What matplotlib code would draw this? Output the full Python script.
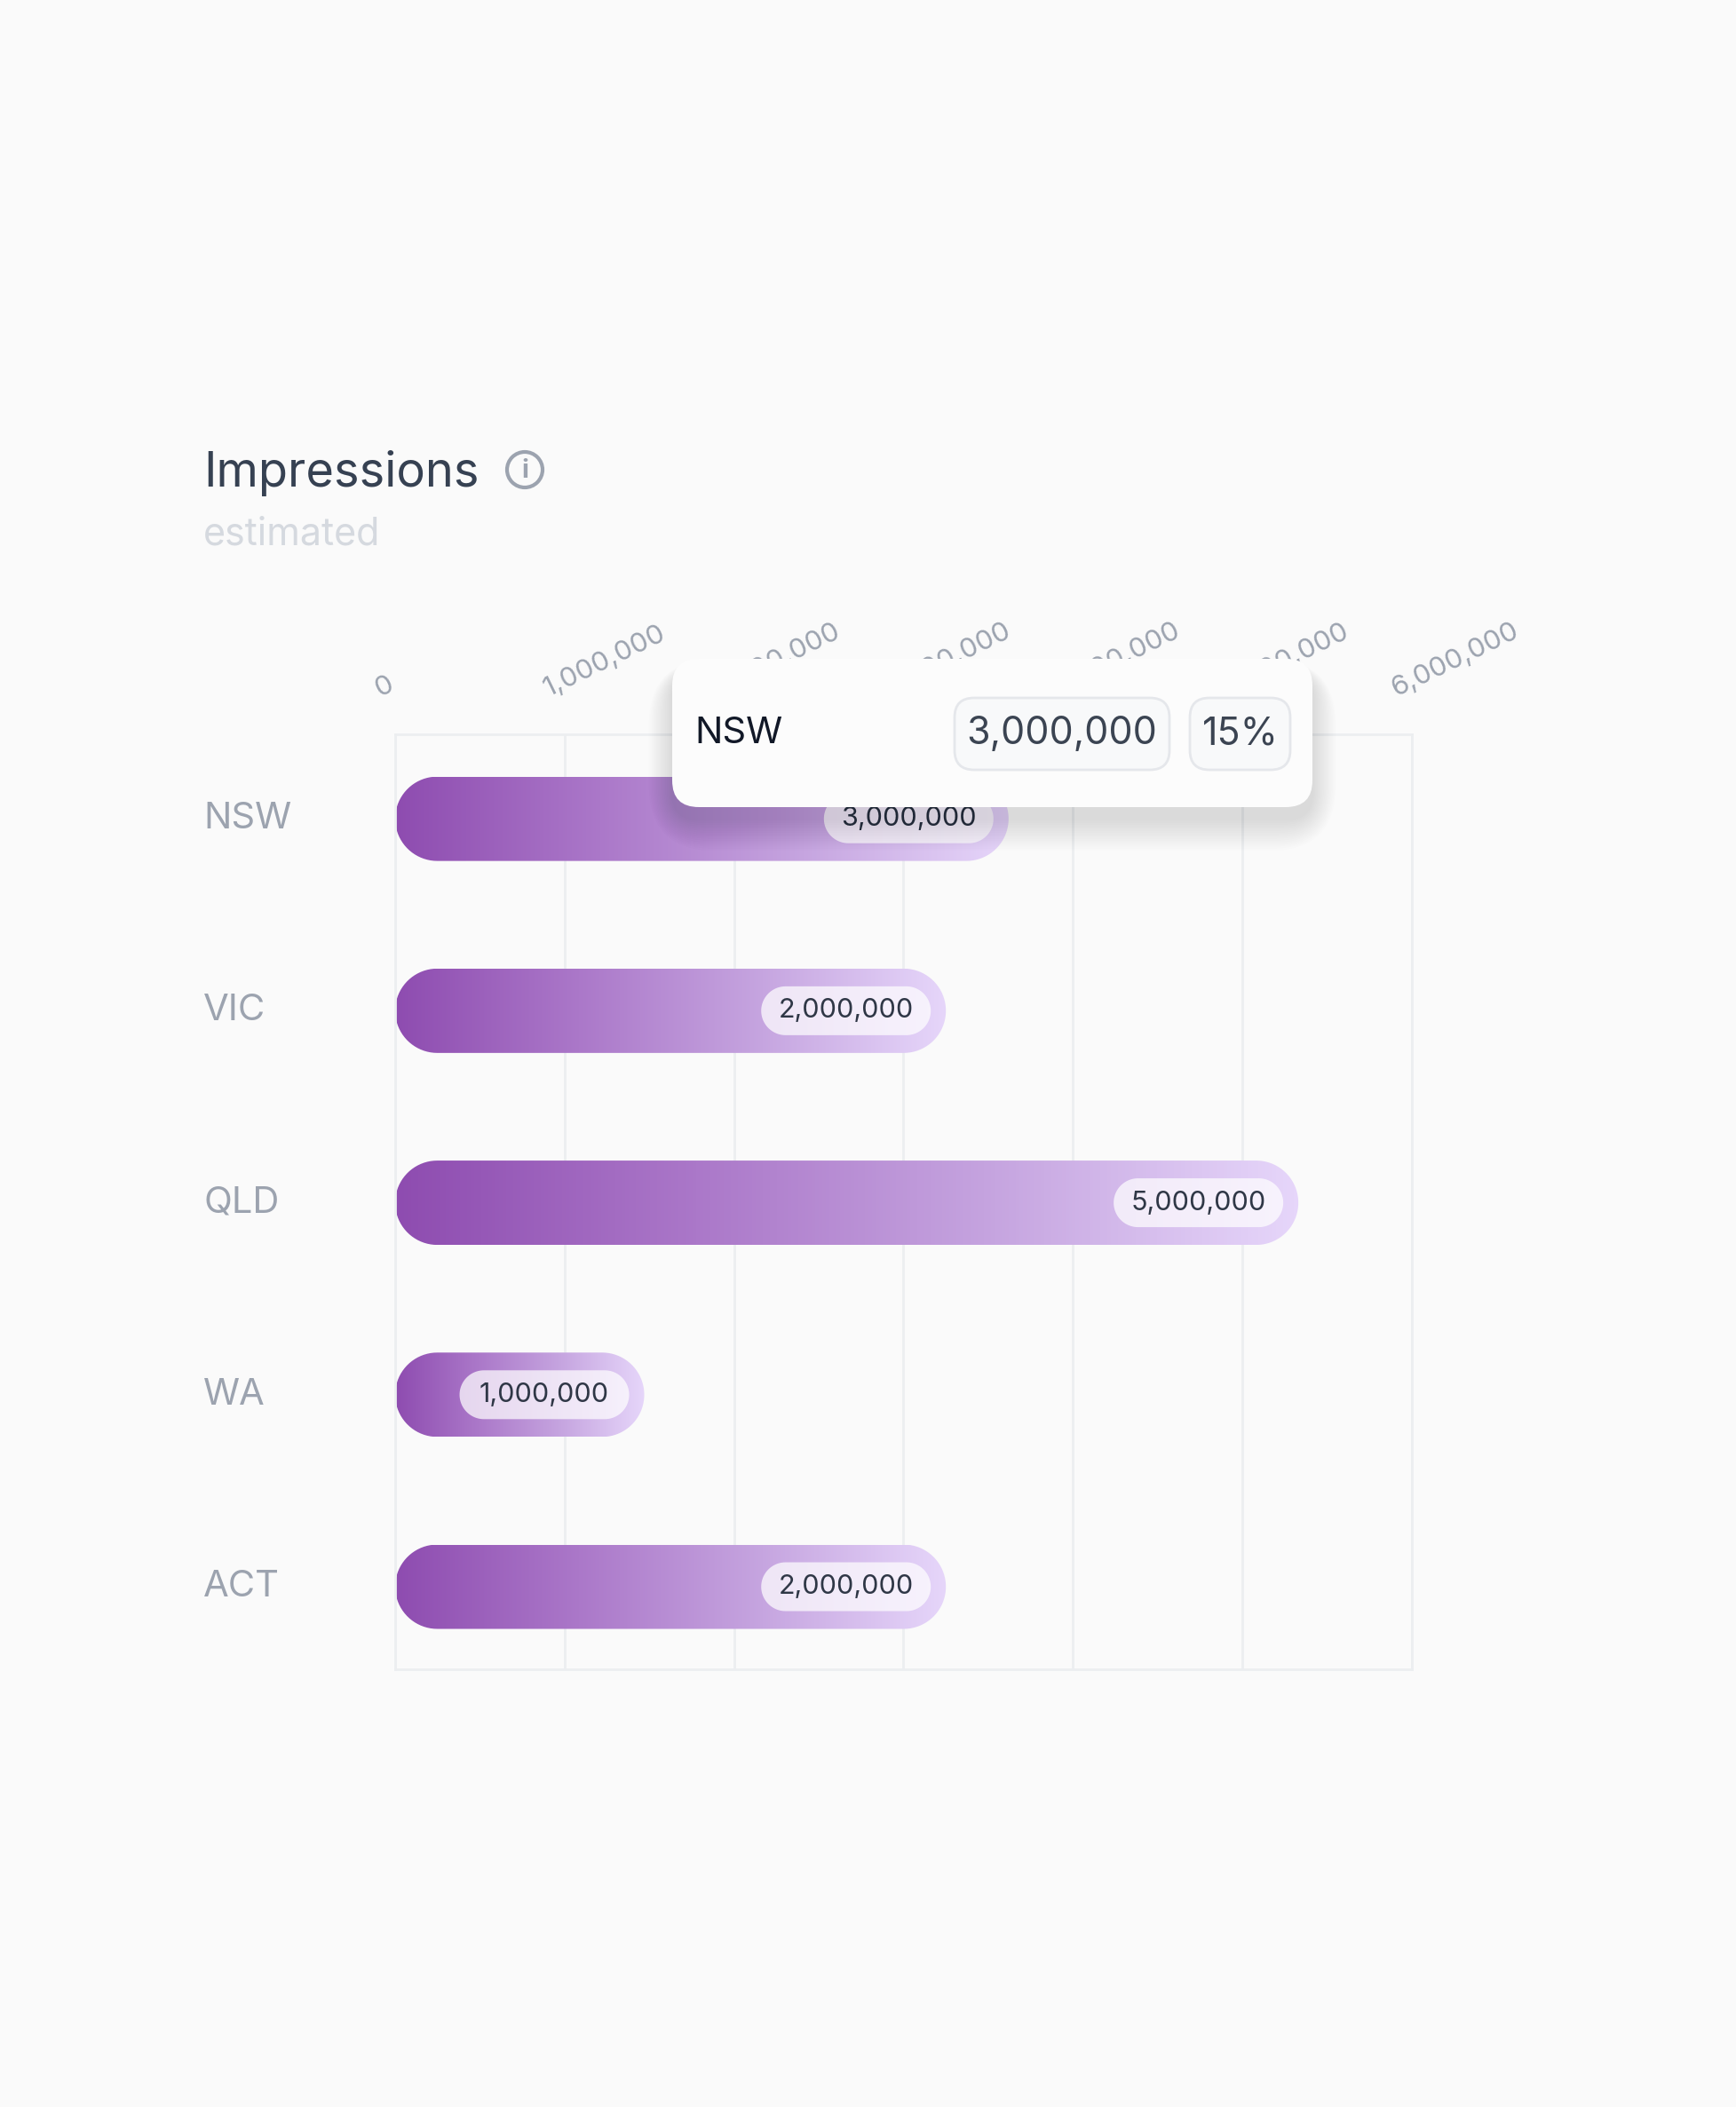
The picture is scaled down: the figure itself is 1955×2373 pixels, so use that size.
import matplotlib
import matplotlib.pyplot as plt
from matplotlib.colors import LinearSegmentedColormap
from matplotlib.patches import FancyBboxPatch, Circle, Polygon
import numpy as np

plt.rcParams['font.family'] = ['Inter', 'DejaVu Sans']

# data
states = ['NSW', 'VIC', 'QLD', 'WA', 'ACT']
value_labels = ['3,000,000', '2,000,000', '5,000,000', '1,000,000', '2,000,000']
bar_ends = [3.62e6, 3.25e6, 5.33e6, 1.47e6, 3.25e6]   # drawn bar length (axis units)
ticks = [0, 1e6, 2e6, 3e6, 4e6, 5e6, 6e6]
tick_labels = ['0', '1,000,000', '2,000,000', '3,000,000', '4,000,000', '5,000,000', '6,000,000']
tip_state = 'NSW'
tip_value = '3,000,000'
tip_share = '15%'

W, H = 1956, 2373
BG = '#fafafa'
fig = plt.figure(figsize=(W / 100, H / 100), dpi=100, facecolor=BG)

# main plot area in pixels
L, R, T, B = 445, 1590, 827, 1880
ax = fig.add_axes([L / W, 1 - B / H, (R - L) / W, (B - T) / H])
ax.set_facecolor(BG)
ax.set_zorder(1)
ylo, yhi = 4.43, -0.44
ax.set_xlim(0, 6e6)
ax.set_ylim(ylo, yhi)
sx = 6e6 / (R - L)           # data per pixel
sy = (ylo - yhi) / (B - T)


def stadium(x0, x1, yc, hpx, n=40):
    # pill outline in data coords, round ends of radius hpx/2 pixels
    rx, ry = hpx / 2 * sx, hpx / 2 * sy
    a = np.linspace(-np.pi / 2, np.pi / 2, n)
    right = np.column_stack([x1 - rx + rx * np.cos(a), yc + ry * np.sin(a)])
    left = np.column_stack([x0 + rx - rx * np.cos(a), yc - ry * np.sin(a)])
    return np.vstack([right, left])


for t in ticks:
    ax.axvline(t, color='#eceef0', lw=2, zorder=0)
for sp in ax.spines.values():
    sp.set_color('#eceef0')
    sp.set_linewidth(2)
ax.set_xticks([])
ax.set_yticks([])

# rotated tick labels above the plot
off = matplotlib.transforms.ScaledTranslation(-18 / 100, 0, fig.dpi_scale_trans)
for t, lab in zip(ticks, tick_labels):
    ax.text(t, 1 + 42 / (B - T), lab, transform=ax.get_xaxis_transform() + off,
            rotation=26, rotation_mode='anchor', ha='left', va='baseline',
            fontsize=22.5, color='#9ca3af', clip_on=False)

cm = LinearSegmentedColormap.from_list('bar', ['#8e4cb0', '#ab78c9', '#c6a5e0', '#e6d6fa'])
grad = np.linspace(0, 1, 256).reshape(1, -1)
bh = 95 * sy
for i, (st, end, lab) in enumerate(zip(states, bar_ends, value_labels)):
    y = i
    pill = Polygon(stadium(0, end, y, 95), closed=True, facecolor='none', edgecolor='none')
    ax.add_patch(pill)
    im = ax.imshow(grad, cmap=cm, aspect='auto', extent=[0, end, y + bh / 2, y - bh / 2],
                   interpolation='bicubic', zorder=2)
    im.set_clip_path(pill)

    pw = 191 * sx
    px = end - 17 * sx - pw
    lp = Polygon(stadium(px, px + pw, y, 55), closed=True, facecolor='white', alpha=0.72,
                 edgecolor='none', zorder=3)
    ax.add_patch(lp)
    ax.text(px + pw / 2, y, lab, ha='center', va='center', fontsize=22,
            color='#2f3746', zorder=4)

ax.set_xlim(0, 6e6)
ax.set_ylim(ylo, yhi)

# overlay in pixel coords for header, category labels and tooltip
ov = fig.add_axes([0, 0, 1, 1])
ov.set_xlim(0, W)
ov.set_ylim(H, 0)
ov.axis('off')
ov.set_zorder(5)
ov.patch.set_alpha(0)

ov.text(229, 548, 'Impressions', fontsize=39, color='#364152', ha='left', va='baseline')
ov.add_patch(Circle((591, 529), 20, facecolor='none', edgecolor='#9ca3af', lw=3))
ov.text(591, 531, 'i', fontsize=21, color='#9ca3af', ha='center', va='center',
        fontweight='bold')
ov.text(229, 614, 'estimated', fontsize=31, color='#d5d9df', ha='left', va='baseline')

# category labels aligned with bar rows
for i, st in enumerate(states):
    ypx = T + (i - yhi) / sy
    ov.text(229, ypx, st, fontsize=30, color='#9ca3af', ha='left', va='center')

# tooltip with soft shadow
tx0, tx1, ty0, ty1 = 757, 1478, 742, 909
for k in range(16):
    g = 2 + k * 2.8
    ov.add_patch(FancyBboxPatch((tx0 - g * 0.6, ty0 + 14 - g * 0.3), tx1 - tx0 + g * 1.2,
                                ty1 - ty0 + g * 1.1,
                                boxstyle='round,pad=0,rounding_size=%f' % (30 + g),
                                facecolor='black', edgecolor='none', alpha=0.007))
ov.add_patch(FancyBboxPatch((tx0, ty0), tx1 - tx0, ty1 - ty0,
                            boxstyle='round,pad=0,rounding_size=30',
                            facecolor='#fcfcfc', edgecolor='none'))
ov.text(782, 826, tip_state, fontsize=30, color='#111827', ha='left', va='center')
for (bx0, bx1, txt) in [(1075, 1317, tip_value), (1340, 1453, tip_share)]:
    ov.add_patch(FancyBboxPatch((bx0, 786), bx1 - bx0, 81,
                                boxstyle='round,pad=0,rounding_size=22',
                                facecolor='#f8f9fa', edgecolor='#e5e7eb', lw=2))
    ov.text((bx0 + bx1) / 2, 827, txt, fontsize=31, color='#3b4452',
            ha='center', va='center')

fig.savefig('out.png', dpi=100, facecolor=BG)
